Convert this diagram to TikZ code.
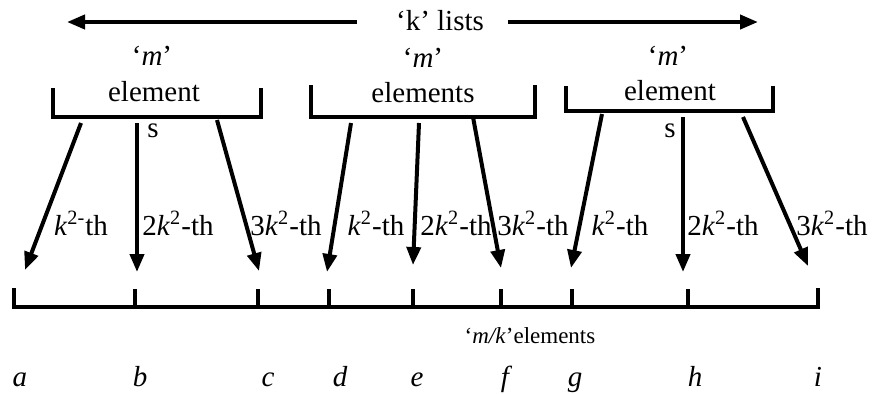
\documentclass[tikz,border=0pt]{standalone}
\usepackage{fontspec}
\setmainfont{Liberation Serif}
\usetikzlibrary{positioning,arrows.meta}

\begin{document}
\begin{tikzpicture}[
    x=0.5pt, y=-0.5pt,
    txt/.style={inner sep=0pt, anchor=base, font=\fontsize{14.5}{16}\selectfont},
    small/.style={inner sep=0pt, anchor=base, font=\fontsize{11.5}{13}\selectfont},
    brk/.style={line width=2pt},
    ptr/.style={-{Triangle[length=9pt,width=7pt]}, line width=2pt},
    lst/.style={{Triangle[length=9pt,width=7pt]}-, line width=2pt}
]
    \useasboundingbox (0,0) rectangle (878,393);

    % 'k' lists header
    \node[txt] (klists) at (440,30) {`k' lists};
    \coordinate (kleft) at (67,22);
    \coordinate (kright) at (758,22);
    \coordinate (kl) at (357,22);
    \coordinate (kr) at (508,22);
    \draw[lst] (kleft) -- (kl);
    \draw[ptr] (kr) -- (kright);

    % Brackets
    \draw[brk] (53,88) -- (53,117) -- (261,117) -- (261,88);
    \draw[brk] (311,85) -- (311,117) -- (535,117) -- (535,85);
    \draw[brk] (566,86) -- (566,111) -- (773,111) -- (773,86);

    % Bracket names
    \node[txt] (ma) at (152,65) {`\textit{m}'};
    \node[txt] (ea) at (154,101) {element};
    \node[txt] (mb) at (423,67) {`\textit{m}'};
    \node[txt] (eb) at (423,102) {elements};
    \node[txt] (mc) at (668,65) {`\textit{m}'};
    \node[txt] (ec) at (670,100) {element};
    \node[txt] (sa) at (153,137) {s};
    \node[txt] (sc) at (670,137) {s};

    % Pointer ends
    \coordinate (a1) at (81,123);   \coordinate (a1e) at (25,270);
    \coordinate (a2) at (137,123);  \coordinate (a2e) at (137,272);
    \coordinate (a3) at (217,120);  \coordinate (a3e) at (259,271);
    \coordinate (b1) at (351,123);  \coordinate (b1e) at (327,272);
    \coordinate (b2) at (419,123);  \coordinate (b2e) at (413,265);
    \coordinate (b3) at (473,117);  \coordinate (b3e) at (501,268);
    \coordinate (c1) at (602,114);  \coordinate (c1e) at (571,268);
    \coordinate (c2) at (683,117);  \coordinate (c2e) at (683,272);
    \coordinate (c3) at (743,117);  \coordinate (c3e) at (808,266);

    \foreach \p in {a1,a2,a3,b1,b2,b3,c1,c2,c3}
        \draw[ptr] (\p) -- (\p e);

    % Pointer labels
    \node[txt] (la1) at (81,235) {\textit{k}\textsuperscript{2-}th};
    \node[txt] (la2) at (178,235) {2\textit{k}\textsuperscript{2}-th};
    \node[txt] (la3) at (286,235) {3\textit{k}\textsuperscript{2}-th};
    \node[txt] (lb1) at (376,235) {\textit{k}\textsuperscript{2}-th};
    \node[txt] (lb2) at (456,235) {2\textit{k}\textsuperscript{2}-th};
    \node[txt] (lb3) at (533,235) {3\textit{k}\textsuperscript{2}-th};
    \node[txt] (lc1) at (620,235) {\textit{k}\textsuperscript{2}-th};
    \node[txt] (lc2) at (723,235) {2\textit{k}\textsuperscript{2}-th};
    \node[txt] (lc3) at (832,235) {3\textit{k}\textsuperscript{2}-th};

    % Base list with ticks
    \draw[brk] (14,288) -- (14,307) -- (818,307) -- (818,288);
    \foreach \x in {135,258,329,413,501,572,688}
        \draw[brk] (\x,289) -- (\x,307);

    \node[small] (mk) at (530,343) {`\textit{m/k}'elements};

    % Split points
    \foreach \n/\x in {a/20,b/140,c/268,d/340,e/417,f/505,g/575,h/695,i/818}
        \node[txt, font=\fontsize{14.5}{16}\selectfont\itshape] (\n) at (\x,386) {\n};
\end{tikzpicture}
\end{document}
